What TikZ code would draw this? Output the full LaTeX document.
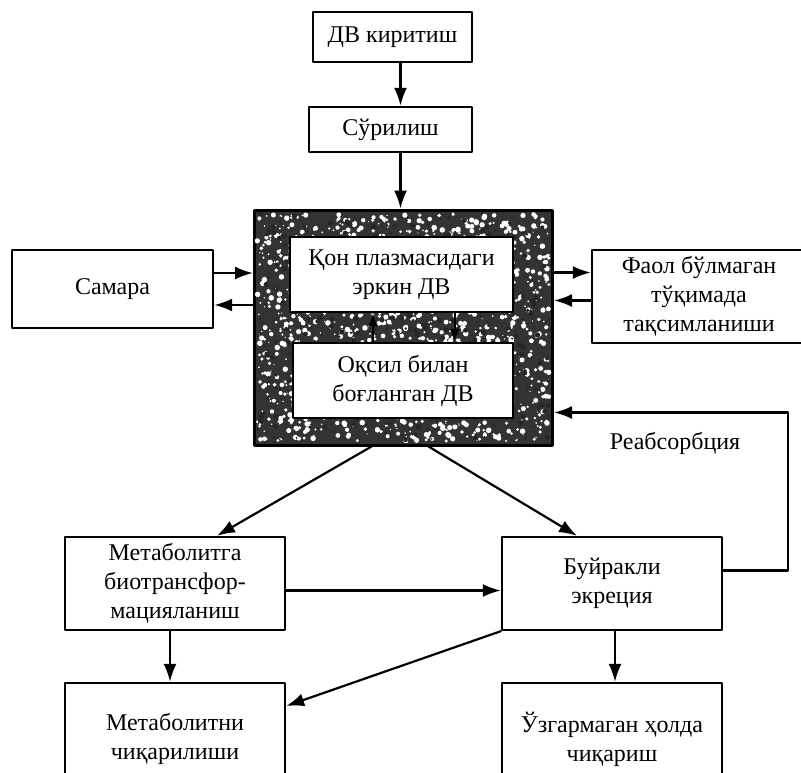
\documentclass[tikz,border=0pt]{standalone}
\usepackage{fontspec}
\setmainfont{Liberation Serif}
\usepackage{tikz}
\usetikzlibrary{arrows.meta}

\begin{document}
\begin{tikzpicture}[line cap=round, line join=round, x=1pt, y=-1pt,
    box/.style={draw, line width=2.4pt, fill=white, align=center, inner sep=0pt,
        font=\fontsize{24}{29}\selectfont},
    arr/.style={line width=2.2pt, -{Latex[length=18pt,width=13pt]}},
    sarr/.style={line width=2pt, -{Latex[length=13pt,width=10pt]}}]
                \useasboundingbox (0,0) rectangle (801,772);
                \clip (0,0) rectangle (801,772);
                % top chain
                \node[box, minimum width=159pt, minimum height=50pt] (input) at (392.5,37) {ДВ киритиш};
                \node[box, minimum width=163pt, minimum height=45pt] (absorb) at (390.5,129.5) {Сўрилиш};
                % central pool with grainy frame
                \node[draw, line width=3pt, fill=black!80, minimum width=298pt, minimum height=235pt] (pool) at (403.5,327.5) {};
                \pgfmathsetseed{17}
                \foreach \i in {1,...,1400}
                    \fill[white] ({257+292*rnd},{214+227*rnd}) circle ({0.6+2.2*rnd});
                \foreach \i in {1,...,500}
                    \fill[black!85] ({257+292*rnd},{214+227*rnd}) circle ({0.8+2*rnd});
                \node[box, minimum width=223pt, minimum height=75pt] (free) at (401.5,274.5) {Қон плазмасидаги\\эркин ДВ};
                \node[box, minimum width=220pt, minimum height=75pt] (bound) at (403,380.5) {Оқсил билан\\боғланган ДВ};
                % side boxes
                \node[box, minimum width=201pt, minimum height=78pt] (samara) at (112.5,289) {Самара};
                \node[box, minimum width=214pt, minimum height=93pt] (inactive) at (699,296.5) {Фаол бўлмаган\\тўқимада\\тақсимланиши};
                % lower boxes
                \node[box, minimum width=220pt, minimum height=93pt] (biotr) at (175,583.5) {Метаболитга\\биотрансфор-\\мацияланиш};
                \node[box, minimum width=220pt, minimum height=93pt] (renal) at (612,583.5) {Буйракли\\экреция};
                \node[box, minimum width=220pt, minimum height=112pt] (metout) at (175,739) {Метаболитни\\чиқарилиши};
                \node[box, minimum width=220pt, minimum height=112pt] (unch) at (612,739) {Ўзгармаган ҳолда\\чиқариш};
                \node[font=\fontsize{24}{29}\selectfont] (reablabel) at (675,443) {Реабсорбция};
                % connectors
                \draw[arr] ([xshift=8pt]input.south) -- ([xshift=8pt]input.south |- absorb.north);
                \draw[arr] ([xshift=10pt]absorb.south) -- ([xshift=10pt]absorb.south |- pool.north);
                \draw[sarr] ([xshift=-30pt]bound.north) -- ([xshift=-30pt]bound.north |- free.south);
                \draw[sarr] ([xshift=53pt]free.south) -- ([xshift=53pt]free.south |- bound.north);
                \draw[arr] ([yshift=16pt]samara.east) -- ([yshift=16pt]samara.east -| pool.west);
                \draw[arr] ([yshift=-16pt]samara.east -| pool.west) -- ([yshift=-16pt]samara.east);
                \draw[arr] ([yshift=24pt]pool.east |- inactive.west) -- ([yshift=24pt]inactive.west);
                \draw[arr] ([yshift=-4pt]inactive.west) -- ([yshift=-4pt]inactive.west -| pool.east);
                \draw[arr] ([xshift=-32pt]pool.south) -- ([xshift=42pt]biotr.north);
                \draw[arr] ([xshift=25pt]pool.south) -- ([xshift=-35pt]renal.north);
                \draw[arr] ([yshift=-7pt]biotr.east) -- ([yshift=-7pt]biotr.east -| renal.west);
                \draw[arr] ([xshift=-5pt]biotr.south) -- ([xshift=-5pt]biotr.south |- metout.north);
                \draw[arr] ([xshift=3pt]renal.south) -- ([xshift=3pt]renal.south |- unch.north);
                \draw[arr] (renal.south west) -- ([yshift=33pt]metout.east);
                \draw[arr] ([yshift=13pt]renal.east) -- ++(65,0) |- ([yshift=-85pt]pool.east);
            \end{tikzpicture}
\end{document}
